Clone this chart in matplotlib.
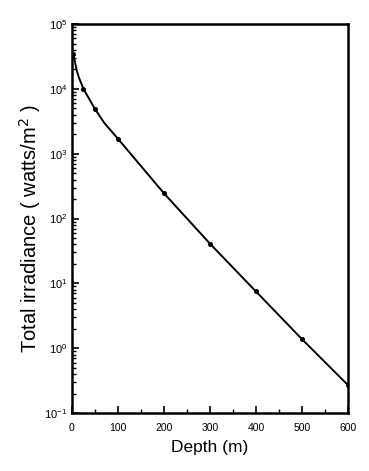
import numpy as np
import matplotlib.pyplot as plt
from matplotlib.ticker import LogLocator, MultipleLocator, FixedLocator, NullFormatter

plt.rcParams['font.family'] = ['Liberation Sans', 'DejaVu Sans']

# curve
depth = [3, 10, 15, 25, 35, 50, 70, 100, 200, 300, 400, 500, 600]
irradiance = [35000, 19500, 15000, 10000, 7500, 4900, 3000, 1700, 245, 41, 7.5, 1.38, 0.27]

# marked points
mark_depth = [3, 25, 50, 100, 200, 300, 400, 500, 600]
mark_irr = [35000, 10000, 4900, 1700, 245, 41, 7.5, 1.38, 0.27]

xticks = [0, 100, 200, 300, 400, 500, 600]
yticks = [0.1, 1, 10, 100, 1e3, 1e4, 1e5]

fig = plt.figure(figsize=(3.69, 4.71), dpi=100)
ax = fig.add_axes([0.195, 0.123, 0.748, 0.826])

ax.plot(depth, irradiance, color='black', lw=1.4)
ax.plot(mark_depth, mark_irr, 'o', color='black', ms=2.6)

ax.set_yscale('log')
ax.set_xlim(0, 600)
ax.set_ylim(0.1, 1e5)
ax.xaxis.set_major_locator(FixedLocator(xticks))
ax.xaxis.set_minor_locator(MultipleLocator(50))
ax.yaxis.set_major_locator(FixedLocator(yticks))
ax.yaxis.set_minor_locator(LogLocator(base=10, subs=np.arange(2, 10), numticks=20))
ax.yaxis.set_minor_formatter(NullFormatter())

ax.tick_params(which='both', direction='in', top=False, right=False)
ax.tick_params(axis='y', labelsize=8)
ax.tick_params(axis='x', labelsize=7.5, pad=7)
ax.tick_params(which='major', length=5, width=1.2)
ax.tick_params(which='minor', length=3, width=1)

for s in ax.spines.values():
    s.set_linewidth(1.8)

ax.set_xlabel('Depth (m)', fontsize=12.5)
ax.xaxis.set_label_coords(0.5, -0.068)
ax.set_ylabel('Total irradiance ( watts/m$^2$ )', fontsize=14.5)
ax.yaxis.set_label_coords(-0.105, 0.475)

fig.savefig('out.png', dpi=100)
